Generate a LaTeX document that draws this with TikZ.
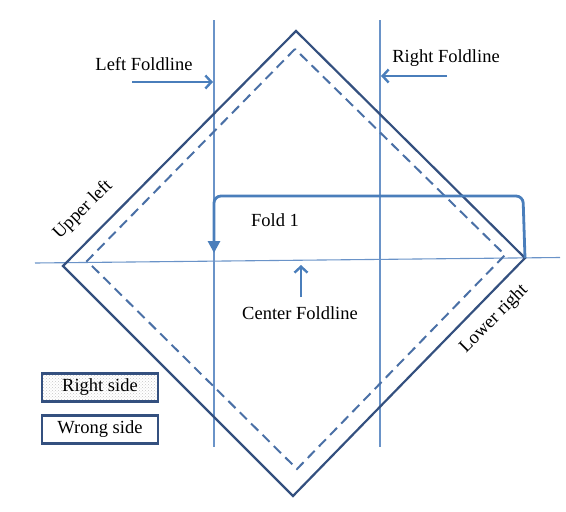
\documentclass[tikz,border=0pt]{standalone}
\usepackage{fontspec}
\setmainfont{Liberation Serif}
\usetikzlibrary{arrows.meta,patterns}
\definecolor{navy}{HTML}{34507F}
\definecolor{thinblue}{HTML}{6A93C8}
\definecolor{arrblue}{HTML}{4A7EBB}
\definecolor{dashblue}{HTML}{4A70A6}
\begin{document}
\begin{tikzpicture}[x=1pt,y=-1pt,
  lbl/.style={font=\fontsize{18.5}{21}\selectfont, inner sep=0pt},
  outline/.style={draw=navy, line width=2.2pt, line join=miter},
  seam/.style={draw=dashblue, line width=2pt, dash pattern=on 10pt off 6pt},
  foldln/.style={draw=thinblue, line width=1.1pt},
  ptr/.style={draw=arrblue, line width=2.4pt, -{Straight Barb[length=6pt,width=13pt,line width=2.4pt]}},
  keybox/.style={draw=navy, line width=2.4pt, minimum width=116pt, minimum height=28pt, inner sep=0pt, font=\fontsize{18.5}{21}\selectfont}]
\useasboundingbox (0,0) rectangle (566,512);
% fold lines
\coordinate (lt) at (214,20); \coordinate (lb) at (214,447);
\coordinate (rt) at (380,20); \coordinate (rb) at (380,447);
\coordinate (cl) at (35,263); \coordinate (cr) at (560,257.5);
\draw[foldln] (lt) -- (lb);
\draw[foldln] (rt) -- (rb);
\draw[foldln] (cl) -- (cr);
% outer diamond
\coordinate (T) at (296,31); \coordinate (L) at (63,266);
\coordinate (B) at (293,496); \coordinate (R) at (525,258);
\draw[outline] (T) -- (L) -- (B) -- (R) -- cycle;
% inner dashed diamond
\coordinate (t) at (295,49); \coordinate (l) at (87,261);
\coordinate (b) at (297,469); \coordinate (r) at (505,255);
\draw[seam] (t) -- (l) -- (b) -- (r) -- cycle;
% Fold 1 bracket
\coordinate (f1) at (523,196); \coordinate (f2) at (214,196); \coordinate (f3) at (214,253);
\draw[draw=arrblue, line width=2.8pt, rounded corners=7pt, -{Triangle[length=12pt,width=12pt]}]
  (R) -- (f1) -- (f2) -- (f3);
\node[lbl] (fold) at (275,220) {Fold 1};
% labels with arrows
\node[lbl] (lf) at (144,64) {Left Foldline};
\coordinate (lfa) at (132,82); \coordinate (lfb) at (213,82);
\draw[ptr] (lfa) -- (lfb);
\node[lbl] (rf) at (446,58) {Right Foldline};
\coordinate (rfa) at (447,76); \coordinate (rfb) at (381,76);
\draw[ptr] (rfa) -- (rfb);
\node[lbl] (cf) at (300,313) {Center Foldline};
\coordinate (cfa) at (301,297); \coordinate (cfb) at (301,265);
\draw[ptr] (cfa) -- (cfb);
% corner labels
\node[lbl, rotate=45] (ul) at (83,210) {Upper left};
\node[lbl, rotate=45] (lr) at (494,319) {Lower right};
% key
\node[keybox, fill=gray!8, pattern=crosshatch dots, pattern color=gray!45] (rs) at (100,387.5) {};
\node[keybox] (rs2) at (100,387.5) {Right side};
\node[keybox] (ws) at (100,429.5) {Wrong side};
\end{tikzpicture}
\end{document}
